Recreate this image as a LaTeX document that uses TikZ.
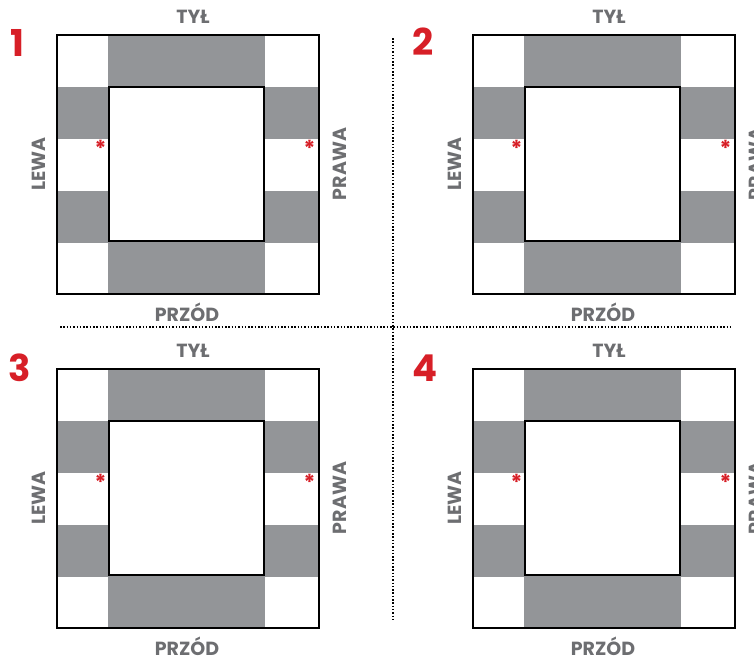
\documentclass[tikz,border=0pt]{standalone}
\usepackage{fontspec}
\newfontfamily\lblfont{Poppins}
\definecolor{panelgray}{HTML}{939598}
\definecolor{textgray}{HTML}{6D6E71}
\definecolor{markred}{HTML}{D71F27}
\tikzset{
  side/.style={font=\lblfont\bfseries\fontsize{19}{20}\selectfont, text=textgray, inner sep=0pt},
  number/.style={font=\lblfont\bfseries\fontsize{37}{38}\selectfont, text=markred, inner sep=0pt},
  star/.style={font=\lblfont\bfseries\fontsize{22}{22}\selectfont, text=markred, inner sep=0pt},
  divider/.style={line width=1.6pt, dash pattern=on 1.5pt off 1.8pt}
}
\begin{document}
\begin{tikzpicture}[x=1pt,y=-1pt]
  \useasboundingbox (0,0) rectangle (754,656);
  % four identical panels
  \foreach \n/\ox/\oy/\nx/\ny in {1/57/35/17/43, 2/473/35/423/42, 3/57/369/20/368, 4/473/369/425/368}{
    \node[number] (num\n) at (\nx,\ny) {\n};
    \begin{scope}[shift={(\ox,\oy)}]
      \fill[panelgray] (51,0) rectangle (208,52);
      \fill[panelgray] (51,207) rectangle (208,259);
      \fill[panelgray] (0,52) rectangle (52,104);
      \fill[panelgray] (0,156) rectangle (52,208);
      \fill[panelgray] (207,52) rectangle (262,104);
      \fill[panelgray] (207,156) rectangle (262,208);
      \draw[line width=2pt, fill=white] (52,52) rectangle (207,206);
      \draw[line width=2.5pt] (0,0) rectangle (262,259);
      \node[side] (tyl\n) at (136,-18) {TYŁ};
      \node[side] (przod\n) at (130,277) {PRZÓD};
      \node[side, rotate=90] (lewa\n) at (-18,129) {LEWA};
      \node[side, rotate=90] (prawa\n) at (283,129) {PRAWA};
      \node[star] (sl\n) at (43.5,113) {*};
      \node[star] (sr\n) at (252.5,113) {*};
    \end{scope}
  }
  % dotted dividers
  \coordinate (vtop) at (393,38);
  \coordinate (vbot) at (393,622);
  \coordinate (hleft) at (60,327);
  \coordinate (hright) at (732,327);
  \draw[divider] (vtop) -- (vbot);
  \draw[divider] (hleft) -- (hright);
\end{tikzpicture}
\end{document}
